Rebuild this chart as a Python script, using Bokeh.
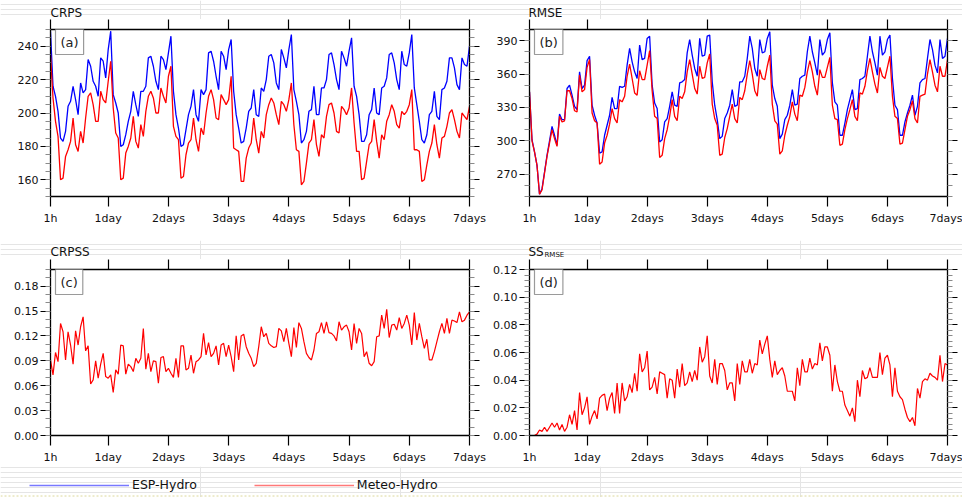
from bokeh.plotting import figure
from bokeh.models import (Range1d, LinearAxis, FixedTicker, SingleIntervalTicker,
                          NumeralTickFormatter, Label, Legend, LegendItem, Span)
from bokeh.layouts import column, row
from bokeh.embed import file_html
from bokeh.resources import INLINE

# ---------------- data ----------------
hours = list(range(1, 169))
tick_hours = [1, 24, 48, 72, 96, 120, 144, 168]
tick_labels = ["1h", "1day", "2days", "3days", "4days", "5days", "6days", "7days"]
series_names = ["ESP-Hydro", "Meteo-Hydro"]

crps_esp = [
    249, 216, 210, 201, 185, 183, 189, 204, 207, 216, 208, 199, 218, 212, 214, 232, 228, 219, 216, 210, 233, 231, 221, 238,
    249, 211, 206, 200, 180, 181, 187, 195, 201, 213, 205, 198, 213, 213, 216, 233, 234, 228, 219, 214, 234, 232, 226, 236,
    246, 213, 199, 191, 180, 181, 190, 199, 204, 214, 199, 195, 214, 211, 214, 236, 237, 231, 222, 214, 237, 234, 226, 238,
    244, 213, 199, 191, 182, 183, 191, 201, 203, 214, 199, 198, 215, 213, 220, 234, 235, 230, 218, 214, 238, 233, 227, 238,
    247, 214, 207, 199, 182, 184, 189, 201, 202, 216, 199, 199, 215, 215, 220, 235, 236, 229, 220, 214, 237, 233, 228, 237,
    245, 216, 210, 199, 183, 183, 187, 199, 202, 215, 200, 199, 215, 216, 221, 235, 236, 230, 220, 214, 237, 229, 228, 236,
    247, 215, 205, 195, 184, 182, 187, 199, 201, 213, 198, 196, 214, 215, 219, 233, 233, 227, 217, 214, 233, 229, 228, 240,
]
crps_meteo = [
    235, 209, 195, 186, 160, 161, 174, 178, 183, 197, 181, 177, 189, 182, 197, 210, 212, 205, 195, 195, 213, 208, 206, 219,
    231, 203, 188, 185, 160, 161, 176, 180, 185, 198, 183, 179, 193, 186, 201, 210, 213, 209, 200, 200, 215, 210, 206, 222,
    228, 192, 186, 184, 161, 162, 175, 182, 184, 197, 184, 177, 191, 187, 200, 210, 214, 208, 197, 196, 211, 208, 205, 208,
    222, 179, 178, 177, 159, 159, 173, 179, 182, 197, 184, 176, 189, 185, 199, 205, 209, 206, 199, 193, 207, 205, 201, 208,
    218, 193, 178, 177, 157, 159, 170, 182, 184, 196, 181, 174, 187, 185, 198, 205, 206, 200, 189, 188, 204, 202, 199, 203,
    215, 194, 177, 177, 160, 161, 171, 181, 183, 196, 183, 173, 187, 184, 195, 199, 205, 201, 193, 191, 201, 199, 201, 205,
    214, 178, 178, 177, 159, 160, 169, 177, 182, 193, 181, 173, 185, 186, 192, 200, 202, 196, 189, 185, 200, 198, 196, 204,
]
rmse_esp = [
    344, 301, 290, 278, 252, 257, 272, 287, 300, 313, 305, 296, 324, 319, 319, 347, 350, 341, 331, 328, 362, 347, 350, 372,
    376, 332, 323, 316, 289, 290, 305, 314, 323, 339, 329, 329, 349, 348, 349, 368, 383, 371, 362, 356, 386, 373, 374, 392,
    394, 350, 334, 329, 299, 301, 317, 320, 331, 344, 332, 331, 352, 353, 355, 379, 391, 377, 365, 358, 392, 376, 377, 394,
    395, 353, 332, 319, 302, 304, 320, 325, 332, 346, 331, 332, 353, 353, 358, 374, 394, 383, 365, 358, 391, 379, 380, 392,
    398, 350, 338, 331, 302, 306, 319, 323, 332, 346, 332, 333, 356, 358, 359, 380, 394, 380, 370, 359, 391, 377, 380, 391,
    397, 352, 335, 332, 305, 305, 316, 328, 337, 346, 328, 329, 355, 356, 358, 376, 394, 380, 370, 359, 394, 377, 380, 391,
    395, 356, 332, 328, 305, 305, 317, 325, 332, 341, 323, 331, 352, 355, 356, 374, 391, 382, 368, 361, 391, 374, 376, 392,
]
rmse_meteo = [
    344, 300, 290, 278, 252, 256, 271, 286, 298, 310, 302, 295, 322, 317, 318, 345, 345, 338, 327, 326, 359, 344, 346, 366,
    373, 325, 318, 316, 279, 281, 298, 305, 315, 329, 320, 316, 337, 335, 340, 358, 369, 356, 343, 341, 363, 355, 355, 368,
    381, 345, 322, 320, 285, 287, 302, 310, 322, 337, 322, 318, 340, 338, 344, 362, 373, 360, 347, 342, 367, 356, 357, 370,
    378, 333, 320, 314, 287, 288, 303, 311, 322, 333, 320, 316, 339, 337, 345, 360, 372, 360, 345, 340, 364, 356, 355, 367,
    377, 333, 318, 315, 288, 291, 305, 314, 322, 335, 324, 318, 341, 340, 348, 362, 372, 362, 349, 341, 364, 357, 357, 366,
    375, 332, 320, 319, 296, 297, 310, 320, 328, 337, 322, 318, 343, 342, 349, 363, 374, 362, 351, 343, 366, 358, 356, 366,
    376, 340, 322, 320, 297, 298, 310, 322, 328, 336, 320, 316, 340, 341, 342, 360, 373, 362, 350, 344, 367, 358, 358, 373,
]
crpss_meteo = [
    0.091, 0.073, 0.100, 0.089, 0.135, 0.125, 0.091, 0.125, 0.109, 0.086, 0.126, 0.109, 0.131, 0.143, 0.102, 0.108, 0.062, 0.067, 0.090, 0.069, 0.086, 0.099, 0.071, 0.069,
    0.073, 0.052, 0.079, 0.074, 0.109, 0.108, 0.074, 0.086, 0.083, 0.077, 0.093, 0.087, 0.093, 0.129, 0.080, 0.099, 0.077, 0.090, 0.089, 0.063, 0.094, 0.095, 0.077, 0.081,
    0.075, 0.070, 0.093, 0.070, 0.108, 0.108, 0.079, 0.081, 0.097, 0.075, 0.089, 0.091, 0.095, 0.123, 0.097, 0.112, 0.095, 0.099, 0.108, 0.085, 0.109, 0.111, 0.095, 0.109,
    0.095, 0.077, 0.120, 0.091, 0.120, 0.122, 0.107, 0.099, 0.093, 0.083, 0.087, 0.107, 0.131, 0.119, 0.123, 0.111, 0.108, 0.106, 0.107, 0.129, 0.126, 0.113, 0.129, 0.111,
    0.095, 0.130, 0.106, 0.136, 0.129, 0.113, 0.099, 0.094, 0.091, 0.103, 0.123, 0.125, 0.136, 0.123, 0.137, 0.124, 0.123, 0.120, 0.114, 0.137, 0.127, 0.131, 0.133, 0.125,
    0.103, 0.135, 0.111, 0.129, 0.123, 0.095, 0.101, 0.087, 0.084, 0.089, 0.119, 0.120, 0.145, 0.129, 0.152, 0.118, 0.133, 0.134, 0.127, 0.142, 0.129, 0.135, 0.145, 0.133,
    0.109, 0.148, 0.115, 0.135, 0.119, 0.105, 0.116, 0.091, 0.091, 0.101, 0.113, 0.125, 0.135, 0.123, 0.141, 0.123, 0.139, 0.138, 0.136, 0.149, 0.137, 0.139, 0.145, 0.149,
]
ss_rmse_meteo = [
    0.000, 0.000, 0.000, 0.001, 0.004, 0.003, 0.006, 0.003, 0.006, 0.009, 0.006, 0.009, 0.004, 0.008, 0.003, 0.006, 0.015, 0.008, 0.018, 0.004, 0.031, 0.015, 0.020, 0.028,
    0.008, 0.014, 0.018, 0.012, 0.027, 0.029, 0.030, 0.018, 0.027, 0.031, 0.016, 0.038, 0.016, 0.038, 0.025, 0.028, 0.037, 0.031, 0.045, 0.032, 0.059, 0.046, 0.049, 0.061,
    0.033, 0.035, 0.042, 0.030, 0.046, 0.045, 0.044, 0.027, 0.041, 0.040, 0.027, 0.048, 0.035, 0.052, 0.036, 0.038, 0.046, 0.039, 0.047, 0.040, 0.064, 0.053, 0.057, 0.072,
    0.043, 0.038, 0.055, 0.037, 0.052, 0.052, 0.047, 0.033, 0.038, 0.038, 0.025, 0.052, 0.037, 0.054, 0.046, 0.046, 0.055, 0.045, 0.052, 0.051, 0.069, 0.059, 0.066, 0.072,
    0.055, 0.042, 0.054, 0.044, 0.047, 0.049, 0.043, 0.032, 0.032, 0.032, 0.025, 0.049, 0.036, 0.055, 0.046, 0.046, 0.056, 0.048, 0.052, 0.051, 0.067, 0.054, 0.064, 0.064,
    0.058, 0.032, 0.051, 0.039, 0.032, 0.032, 0.022, 0.018, 0.014, 0.020, 0.010, 0.040, 0.028, 0.047, 0.041, 0.042, 0.049, 0.042, 0.042, 0.042, 0.060, 0.044, 0.056, 0.058,
    0.051, 0.028, 0.049, 0.032, 0.028, 0.026, 0.019, 0.013, 0.010, 0.013, 0.007, 0.034, 0.027, 0.039, 0.041, 0.040, 0.045, 0.043, 0.042, 0.040, 0.058, 0.039, 0.052, 0.051,
]

BLUE = "#0000ff"
RED = "#ff0000"
LIGHT_BLUE = "#7878ff"
LIGHT_RED = "#ff7878"
FONT = "DejaVu Sans"
W = 962


def style_axis(ax, show_labels=True):
    ax.axis_line_color = "black"
    ax.axis_line_width = 1.3
    ax.major_tick_line_color = "black"
    ax.major_tick_line_width = 1.2
    ax.major_tick_out = 10
    ax.major_tick_in = 0
    ax.minor_tick_line_color = "#8a8a8a"
    ax.minor_tick_line_width = 1
    ax.minor_tick_out = 5
    ax.minor_tick_in = 0
    ax.major_label_text_font = FONT
    ax.major_label_text_color = "#111111"
    ax.major_label_text_font_size = "11px"
    if not show_labels:
        ax.major_label_text_color = None
        ax.major_label_text_alpha = 0
        ax.major_label_text_font_size = "1px"
        ax.major_label_standoff = 0


def panel(width, height, ylo, yhi, interval, nminor, fmt, borders, tag):
    left, right, top, bottom = borders
    p = figure(width=width, height=height, x_range=Range1d(1, 168),
               y_range=Range1d(ylo, yhi), output_backend="svg", title=None,
               toolbar_location=None, min_border_left=left,
               min_border_right=right, min_border_top=top,
               min_border_bottom=bottom)
    p.outline_line_color = None
    p.xgrid.visible = False
    p.ygrid.visible = False
    p.background_fill_color = "white"
    p.border_fill_color = "white"

    bx = p.xaxis[0]
    bx.ticker = FixedTicker(ticks=tick_hours)
    bx.major_label_overrides = {h: t for h, t in zip(tick_hours, tick_labels)}
    style_axis(bx)
    bx.major_label_standoff = 5

    ly = p.yaxis[0]
    ly.ticker = SingleIntervalTicker(interval=interval, num_minor_ticks=nminor)
    ly.formatter = NumeralTickFormatter(format=fmt)
    style_axis(ly)
    ly.major_label_standoff = 2

    ty = LinearAxis(ticker=FixedTicker(ticks=tick_hours))
    style_axis(ty, show_labels=False)
    p.add_layout(ty, "above")

    ry = LinearAxis(ticker=SingleIntervalTicker(interval=interval, num_minor_ticks=nminor))
    style_axis(ry, show_labels=False)
    p.add_layout(ry, "right")

    p.add_layout(Label(x=1, y=yhi, text=tag, x_offset=5, y_offset=0,
                       text_font=FONT, text_font_size="13px", text_baseline="top",
                       text_color="#222222", border_line_color="#9a9a9a",
                       border_line_width=1.2, background_fill_color="white",
                       padding=5))
    return p


def strip(height):
    s = figure(width=W, height=height, x_range=Range1d(0, W), y_range=Range1d(0, height),
               output_backend="svg", toolbar_location=None, title=None,
               x_axis_location=None, y_axis_location=None,
               min_border_left=0, min_border_right=0, min_border_top=0, min_border_bottom=0)
    s.outline_line_color = None
    s.background_fill_color = "white"
    s.border_fill_color = "white"
    return s


def title(s, x, y, text, size="12px"):
    s.add_layout(Label(x=x, y=y, text=text, text_font=FONT, text_font_size=size,
                       text_baseline="middle", text_color="#111111"))


# titles of the top row (strip covers window rows 0..19)
t1 = strip(19)
title(t1, 50, 6.6, "CRPS")
title(t1, 528, 6.6, "RMSE")

# top row panels
pa = panel(488, 221, 150, 250, 20, 4, "0", (50, 19, 10, 44), "(a)")
pa.line(hours, crps_esp, line_color=BLUE, line_width=1.3)
pa.line(hours, crps_meteo, line_color=RED, line_width=1.3)

pb = panel(474, 221, 250, 400, 30, 3, "0", (41, 15, 10, 44), "(b)")
pb.line(hours, rmse_esp, line_color=BLUE, line_width=1.3)
pb.line(hours, rmse_meteo, line_color=RED, line_width=1.3)

# titles of the bottom row (strip covers window rows 240..259)
t2 = strip(19)
title(t2, 50, 7.2, "CRPSS")
title(t2, 528, 7.2, "SS")
title(t2, 544, 4.4, "RMSE", size="7px")

pc = panel(488, 207, 0, 0.2, 0.03, 3, "0.00", (50, 19, 10, 30), "(c)")
pc.line(hours, crpss_meteo, line_color=RED, line_width=1.2)

pd = panel(474, 207, 0, 0.12, 0.02, 5, "0.00", (41, 15, 10, 30), "(d)")
pd.line(hours, ss_rmse_meteo, line_color=RED, line_width=1.2)

# legend strip: the swatches come from copies of the CRPS series, whose values
# lie far outside this strip's y-range, so only the legend swatches show.
lg = strip(31)
leg_esp = lg.line(hours, crps_esp, line_color=LIGHT_BLUE, line_width=1.3)
leg_met = lg.line(hours, crps_meteo, line_color=LIGHT_RED, line_width=1.3)
legend = Legend(items=[LegendItem(label=series_names[0], renderers=[leg_esp]),
                       LegendItem(label=series_names[1], renderers=[leg_met])],
                orientation="horizontal", location=(29, 5),
                glyph_width=100, glyph_height=14, label_height=14,
                label_standoff=3, spacing=57, padding=0, margin=0,
                border_line_color=None, background_fill_alpha=0,
                label_text_font=FONT, label_text_font_size="12.5px",
                label_text_color="#111111")
lg.add_layout(legend)
lg.add_layout(Span(location=1.5, dimension="width", line_color="#dcd89a",
                   line_width=1, line_dash="2 2"))

layout = column(t1, row(pa, pb), t2, row(pc, pd), lg)

open("out.html", "w").write(file_html(layout, INLINE))
